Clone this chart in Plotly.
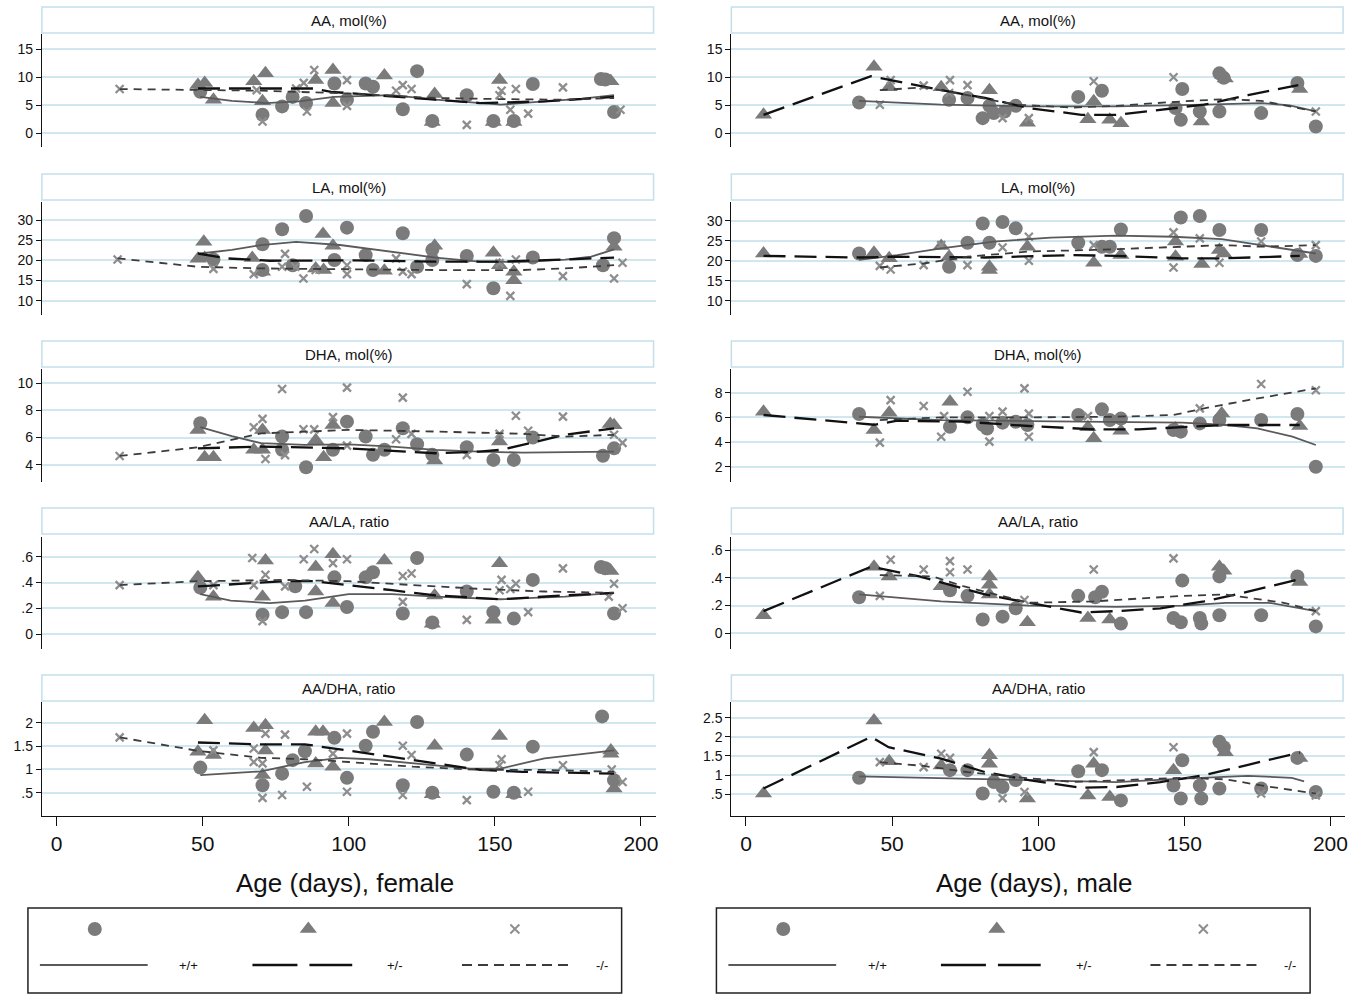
import plotly.graph_objects as go

W, H = 1364, 994

# ---------------- data (age in days, value) ----------------
F_AA_circ = [(49.2,7.4),(70.5,3.3),(77.2,4.8),(80.8,6.5),(85.4,5.4),(95.1,8.9),(99.4,6.0),(105.8,8.9),(108.3,8.3),(118.5,4.3),(123.4,11.1),(128.6,2.2),(140.4,6.8),(149.5,2.2),(156.5,2.2),(163,8.8),(186.3,9.7),(187.8,9.6),(190.8,3.8)]
F_AA_tri = [(48.4,8.6),(50.7,9.0),(53.7,6.0),(67.5,9.3),(71.5,10.7),(70.5,5.7),(88.7,9.5),(94.6,11.3),(94.6,5.4),(112.2,10.3),(129.4,7.0),(128.6,2.0),(151.6,9.5),(149.5,2.0),(156.5,2.0),(189.7,9.3)]
F_AA_x = [(21.6,7.9),(68.5,7.7),(70.5,2.1),(82,8.0),(84.6,9.0),(88.2,11.3),(85.7,3.9),(99.4,9.5),(99.4,4.9),(116.2,7.6),(118.5,8.6),(121.5,7.9),(140.4,1.5),(151.6,6.8),(152.3,7.6),(157.2,7.9),(155.3,4.2),(161.4,3.5),(173.3,8.2),(193,4.2)]
F_AA_solid = [(49.2,6.5),(60,5.8),(71.5,5.4),(83,5.7),(95,6.5),(114.8,6.8),(129.7,6.0),(145,5.4),(152,5.1),(167,5.7),(180,6.2),(190.8,6.8)]
F_AA_long = [(48.4,8.0),(88,8.0),(94,7.4),(115,6.5),(129.7,6.0),(145,5.4),(167,5.7),(190.8,6.5)]
F_AA_short = [(21.6,7.9),(48.4,7.7),(70,7.6),(100,7.1),(129.7,6.3),(152,6.1),(174,6.0),(190.8,6.3)]

F_LA_circ = [(53.7,20.2),(70.5,24.0),(70.5,17.6),(77.2,27.7),(80.8,18.8),(85.4,31.0),(95.1,20.1),(99.4,28.1),(105.8,21.3),(108.3,17.6),(118.5,26.7),(123.4,18.4),(128.6,22.6),(128.6,20.1),(140.4,21.1),(149.5,13.1),(163,20.7),(187,18.8),(190.8,25.5)]
F_LA_tri = [(48.4,20.4),(50.4,24.6),(50.7,20.6),(67,20.6),(70.5,17.2),(88.7,18.0),(91.2,26.5),(94.6,23.6),(91.4,17.6),(112.2,17.4),(129.4,23.6),(149.5,21.9),(151.6,18.8),(156.5,17.2),(156.5,15.1),(190.8,23.4)]
F_LA_x = [(20.9,20.2),(53.7,17.9),(67.5,16.6),(77.2,18.4),(78.2,21.6),(81.7,18.4),(84.5,15.5),(88.7,17.6),(99.4,16.6),(99.4,18.8),(116.2,20.5),(118.5,17.2),(121.5,16.6),(140.4,14.1),(151.6,19.3),(155.3,11.2),(157.2,20.2),(173.3,16.1),(190.8,15.5),(193.7,19.4)]
F_LA_solid = [(49.2,21.7),(60,22.6),(70,23.8),(82,24.6),(97,23.8),(114.8,22.1),(129.7,20.7),(144.6,19.7),(160,19.6),(174,20.2),(183,20.9),(190.8,22.7)]
F_LA_long = [(48.4,21.7),(58,20.5),(73,19.9),(100,20.0),(129.7,19.7),(152,19.7),(174,20.2),(190.8,20.7)]
F_LA_short = [(20.9,20.5),(48.4,18.4),(70,18.0),(100,17.8),(129.7,17.6),(159.5,17.6),(174,18.0),(190.8,18.8)]

F_DHA_circ = [(49.2,7.05),(77.2,6.07),(77.2,5.1),(85.4,3.81),(94.6,5.1),(99.4,7.17),(105.8,6.07),(108.3,4.72),(112.2,5.1),(118.5,6.68),(123.4,5.5),(128.6,4.72),(140.4,5.28),(149.5,4.35),(156.5,4.35),(163,6.0),(187,4.65),(190.8,5.2)]
F_DHA_tri = [(48.4,6.56),(50.7,4.55),(53.7,4.55),(67.5,5.1),(70.5,5.1),(70.5,6.56),(88.7,5.8),(91.4,4.55),(94.6,6.93),(129.4,4.3),(151.6,5.7),(189.5,7.0),(190.8,6.9)]
F_DHA_x = [(21.6,4.64),(67.5,6.76),(70.5,7.37),(71.5,4.42),(77.2,9.58),(78.2,4.7),(84.5,6.61),(88.2,6.6),(94.6,7.5),(99.4,9.68),(99.4,5.4),(116.2,5.87),(118.5,8.94),(121.5,6.27),(140.4,4.72),(151.6,6.27),(157.2,7.6),(161.4,6.5),(173.3,7.54),(190.8,6.2),(193.7,5.6)]
F_DHA_solid = [(49.2,6.76),(60,6.1),(70,5.58),(85,5.45),(100,5.5),(114.8,5.33),(129.7,5.09),(144.6,4.96),(159.5,4.89),(190.8,4.96)]
F_DHA_long = [(48.4,5.2),(70,5.33),(100,5.2),(122,4.96),(129.7,4.84),(144.6,4.96),(152,5.09),(159.5,5.45),(174,6.2),(190.8,6.68)]
F_DHA_short = [(21.6,4.64),(48.4,5.28),(70,6.3),(100,6.56),(129.7,6.44),(159.5,6.27),(174,6.07),(190.8,6.2)]

F_AALA_circ = [(49.2,0.36),(70.5,0.15),(77.2,0.17),(81.7,0.37),(85.4,0.17),(95.1,0.44),(99.4,0.21),(105.8,0.44),(108.3,0.48),(118.5,0.16),(123.4,0.59),(128.6,0.09),(140.4,0.33),(149.5,0.17),(156.5,0.12),(163,0.42),(186.3,0.52),(187.8,0.51),(190.8,0.16)]
F_AALA_tri = [(48.4,0.44),(53.7,0.29),(70.5,0.29),(71.5,0.57),(88.7,0.52),(88.7,0.33),(94.6,0.62),(94.6,0.24),(112.2,0.57),(129.4,0.30),(128.6,0.08),(151.6,0.55),(149.5,0.11),(189.7,0.49)]
F_AALA_x = [(21.6,0.38),(53.7,0.38),(67,0.59),(67.5,0.38),(71.5,0.46),(70.5,0.10),(78.2,0.37),(84.6,0.58),(88.2,0.66),(94.6,0.55),(99.4,0.58),(118.5,0.45),(121.5,0.47),(118.5,0.25),(140.4,0.11),(151.6,0.34),(152.3,0.42),(157.2,0.39),(155.3,0.35),(161.4,0.17),(173.3,0.51),(190.8,0.39),(189,0.29),(193.7,0.20)]
F_AALA_solid = [(49.2,0.31),(59.6,0.26),(73,0.24),(85,0.26),(100,0.31),(114.8,0.31),(129.7,0.29),(152,0.27),(174,0.29),(190.8,0.32)]
F_AALA_long = [(48.4,0.37),(62.6,0.39),(77.5,0.41),(88,0.41),(100,0.38),(114.8,0.34),(129.7,0.30),(152,0.27),(174,0.30),(190.8,0.32)]
F_AALA_short = [(21.6,0.38),(48.4,0.41),(77.5,0.42),(100,0.41),(122,0.38),(145,0.35),(167,0.33),(190.8,0.32)]

F_AADHA_circ = [(49.2,1.04),(70.5,0.66),(77.2,0.91),(80.8,1.2),(85,1.39),(95.1,1.68),(99.4,0.82),(105.8,1.51),(108.3,1.81),(118.5,0.66),(123.4,2.02),(128.6,0.5),(140.4,1.32),(149.5,0.52),(156.5,0.5),(163,1.49),(186.7,2.14),(190.8,0.77)]
F_AADHA_tri = [(48.4,1.38),(50.7,2.06),(53.7,1.31),(67.5,1.89),(71.5,1.95),(71.5,1.41),(70.5,0.88),(88.7,1.81),(91.2,1.81),(88.7,1.13),(94.6,1.06),(112.2,2.02),(129.4,1.51),(128.6,0.47),(151.6,1.72),(156.5,0.47),(189.7,1.41),(189.7,1.34),(190.8,0.59)]
F_AADHA_x = [(21.6,1.69),(53.7,1.41),(67.5,1.45),(67.5,1.16),(71.5,1.77),(70.5,1.13),(70.5,0.39),(78.2,1.75),(77.2,0.45),(85.7,0.63),(94.6,1.34),(99.4,1.77),(99.4,0.52),(118.5,1.51),(121.5,1.31),(118.5,0.45),(140.4,0.34),(152.3,1.22),(151.6,1.09),(161.4,0.52),(173.3,1.09),(190,1.0),(193.7,0.73)]
F_AADHA_solid = [(49.2,0.88),(70,0.96),(85,1.16),(97,1.25),(107,1.22),(122,1.13),(141.6,1.02),(152,1.02),(167,1.24),(190.8,1.41)]
F_AADHA_long = [(48.4,1.58),(70,1.54),(85,1.54),(100,1.41),(114.8,1.27),(129.7,1.13),(145,0.99),(159.5,0.95),(174,0.93),(190.8,0.91)]
F_AADHA_short = [(21.6,1.69),(48.4,1.4),(70,1.25),(85,1.22),(100,1.16),(122,1.06),(145,0.99),(167,0.99),(190.8,0.95)]

M_AA_circ = [(38.7,5.5),(69.5,6.0),(75.8,6.3),(81,2.7),(84.8,3.6),(83.3,4.9),(88.5,3.9),(92.3,4.9),(113.7,6.5),(121.8,7.6),(149.3,7.9),(147,4.5),(148.8,2.4),(155.3,3.9),(162,10.7),(163.5,9.9),(162,3.9),(176.3,3.6),(188.7,9.0),(195,1.2)]
M_AA_tri = [(6.0,3.3),(43.8,11.9),(49,8.2),(66.8,8.2),(83.3,7.7),(96.3,1.9),(117,2.5),(119,5.7),(124.5,2.4),(128.3,1.8),(155.8,2.1),(164,9.8),(189.5,7.9)]
M_AA_x = [(45.8,5.1),(49.5,9.5),(60.8,8.5),(69.8,9.5),(69.5,7.2),(75.8,8.6),(87.8,2.7),(96.8,2.7),(119,9.3),(146.3,10.0),(195,3.9)]
M_AA_solid = [(38.7,5.8),(66.8,5.1),(96.8,4.8),(126.8,4.8),(156.8,5.1),(176.3,5.4),(186,5.0),(195,3.9)]
M_AA_long = [(6.0,3.3),(42.8,10.2),(66.8,7.7),(81.8,6.3),(96.8,4.5),(114.8,3.3),(126.8,3.3),(141.8,4.2),(156.8,5.1),(171.8,6.8),(189,8.6)]
M_AA_short = [(45.8,7.7),(60.8,8.2),(75.8,6.8),(92.3,5.1),(112,4.6),(126.8,4.9),(149.3,5.7),(164,6.1),(176.3,5.8),(195,3.9)]

M_LA_circ = [(38.7,21.8),(69.5,18.5),(75.8,24.5),(81,29.3),(83.3,24.5),(87.8,29.7),(92.3,28.1),(113.7,24.5),(121.8,23.5),(124.5,23.5),(128.3,27.8),(148.8,30.8),(155.3,31.2),(162,27.7),(176.3,27.7),(188.7,21.4),(195,21.2)]
M_LA_tri = [(6.0,21.8),(43.8,22.0),(49,20.6),(66.8,23.7),(69.5,21.0),(83.3,18.5),(83.3,17.7),(96.3,23.5),(119,19.5),(128.3,21.4),(147,24.8),(147,21.0),(156,19.2),(162,22.7),(163.5,21.8),(189.5,21.7)]
M_LA_x = [(45.8,18.7),(49.5,17.8),(60.8,18.9),(66.8,23.9),(75.8,18.9),(87.8,23.3),(96.8,26.0),(96.8,20.0),(119,23.9),(146.3,27.1),(146.3,18.3),(155.3,25.6),(162,19.5),(176.3,24.8),(195,23.9)]
M_LA_solid = [(38.7,20.2),(51.8,21.4),(66.8,23.1),(84.8,24.8),(104.3,25.8),(126.8,26.3),(146.3,26.0),(162.8,25.4),(176.3,23.9),(195,21.8)]
M_LA_long = [(6,21.2),(38.7,20.8),(51.8,21.0),(81.8,20.8),(111.8,21.4),(126.8,21.2),(149.3,20.6),(164,20.6),(189.5,21.2)]
M_LA_short = [(45.8,18.3),(60.8,19.3),(75.8,21.0),(96.8,22.3),(119,22.7),(141.8,23.3),(164,23.9),(176.3,23.5),(195,23.9)]

M_DHA_circ = [(38.7,6.27),(69.8,5.24),(75.8,6.0),(81,5.4),(82.5,5.1),(87.8,5.57),(92.3,5.65),(96.3,5.38),(113.7,6.19),(121.8,6.65),(124.5,5.78),(128.3,5.9),(146.3,4.97),(148.8,4.84),(155.3,5.51),(162,5.78),(176.3,5.78),(188.7,6.27),(195,2.0)]
M_DHA_tri = [(6,6.46),(43.8,4.97),(49,6.38),(69.8,7.27),(117,5.2),(119,4.3),(128.3,4.92),(147,5.1),(162.8,6.32),(189.5,5.3)]
M_DHA_x = [(45.8,3.95),(49.5,7.4),(60.8,6.92),(66.8,4.43),(67.8,6.1),(75.8,8.08),(83.3,4.03),(83.3,6.1),(87.8,6.46),(95.3,8.35),(96.8,4.43),(96.8,6.3),(117,6.1),(155.3,6.73),(176.3,8.7),(195,8.2)]
M_DHA_solid = [(38.7,6.05),(66.8,5.78),(96.8,5.7),(126.8,5.65),(149.3,5.57),(164.3,5.38),(175,5.1),(187,4.43),(195,3.76)]
M_DHA_long = [(6,6.19),(38.7,5.51),(43.8,5.4),(51.8,5.73),(74.3,5.65),(96.8,5.3),(119,5.03),(134.3,5.03),(149.3,5.19),(164.3,5.38),(189.5,5.38)]
M_DHA_short = [(45.8,5.78),(66.8,6.0),(96.8,6.0),(126.8,6.05),(146.3,6.19),(156.8,6.73),(171.8,7.4),(195,8.35)]

M_AALA_circ = [(38.7,0.26),(69.8,0.31),(75.8,0.27),(81,0.10),(87.8,0.12),(92.3,0.18),(113.7,0.27),(119.5,0.26),(121.8,0.30),(128.3,0.07),(146.3,0.11),(148.8,0.08),(149.3,0.38),(155.3,0.11),(155.8,0.07),(162,0.41),(162,0.13),(176.3,0.13),(188.7,0.41),(195,0.05)]
M_AALA_tri = [(6,0.13),(43.8,0.48),(49,0.41),(66.8,0.34),(83.3,0.41),(83.3,0.35),(83.3,0.28),(96.3,0.08),(117,0.11),(124.5,0.10),(162,0.48),(163.5,0.45),(189.5,0.37)]
M_AALA_x = [(45.8,0.27),(49.5,0.53),(60.8,0.46),(69.8,0.52),(69.8,0.44),(75.8,0.46),(95.3,0.24),(119,0.46),(146.3,0.54),(195,0.16)]
M_AALA_solid = [(38.7,0.28),(66.8,0.23),(96.8,0.20),(126.8,0.19),(149.3,0.20),(164.3,0.22),(179,0.22),(195,0.16)]
M_AALA_long = [(6,0.16),(42.8,0.48),(59.3,0.41),(81.8,0.28),(96.8,0.22),(114.8,0.15),(126.8,0.16),(141.8,0.18),(156.8,0.23),(171.8,0.30),(189.5,0.39)]
M_AALA_short = [(45.8,0.42),(63.8,0.41),(74.3,0.34),(96.8,0.22),(119,0.23),(149.3,0.27),(164,0.28),(184,0.22),(195,0.16)]

M_AADHA_circ = [(38.7,0.93),(69.8,1.13),(75.8,1.13),(81,0.52),(84.8,0.82),(87.8,0.69),(92.3,0.87),(113.7,1.1),(121.8,1.13),(128.3,0.34),(146.3,0.73),(148.8,0.39),(149.3,1.39),(155.3,0.73),(155.8,0.39),(162,1.87),(163.5,1.73),(162,0.65),(176.3,0.65),(188.7,1.45),(195,0.56)]
M_AADHA_tri = [(6,0.52),(43.8,2.43),(49,1.36),(66.8,1.25),(83.3,1.52),(83.3,1.3),(96.3,0.39),(117,0.47),(119,1.3),(124.5,0.43),(146.3,1.13),(164,1.6),(189.5,1.45)]
M_AADHA_x = [(45.8,1.34),(60.8,1.21),(66.8,1.56),(69.8,1.45),(87.8,0.4),(95.3,0.56),(119,1.6),(146.3,1.73),(176.3,0.52),(195,0.47)]
M_AADHA_solid = [(38.7,0.97),(66.8,0.93),(96.8,0.87),(126.8,0.82),(149.3,0.91),(171.8,0.98),(186.8,0.93),(191,0.84)]
M_AADHA_long = [(6,0.65),(42.8,2.0),(48.8,1.73),(66.8,1.43),(81.8,1.08),(96.8,0.87),(114.8,0.67),(126.8,0.69),(141.8,0.82),(156.8,1.0),(171.8,1.27),(189.5,1.59)]
M_AADHA_short = [(45.8,1.34),(60.8,1.24),(75.8,1.08),(92.3,0.95),(112,0.82),(126.8,0.87),(149.3,0.93),(164.3,0.89),(176.3,0.73),(195,0.52)]

PANEL_TITLES = ["AA, mol(%)", "LA, mol(%)", "DHA, mol(%)", "AA/LA, ratio", "AA/DHA, ratio"]
X_TICKS = [0, 50, 100, 150, 200]
F_YTICKS = [([0, 5, 10, 15], ["0", "5", "10", "15"]),
            ([10, 15, 20, 25, 30], ["10", "15", "20", "25", "30"]),
            ([4, 6, 8, 10], ["4", "6", "8", "10"]),
            ([0, 0.2, 0.4, 0.6], ["0", ".2", ".4", ".6"]),
            ([0.5, 1, 1.5, 2], [".5", "1", "1.5", "2"])]
M_YTICKS = [([0, 5, 10, 15], ["0", "5", "10", "15"]),
            ([10, 15, 20, 25, 30], ["10", "15", "20", "25", "30"]),
            ([2, 4, 6, 8], ["2", "4", "6", "8"]),
            ([0, 0.2, 0.4, 0.6], ["0", ".2", ".4", ".6"]),
            ([0.5, 1, 1.5, 2, 2.5], [".5", "1", "1.5", "2", "2.5"])]
F_YRANGE = [(-2.45, 17.73), (6.46, 34.46), (2.72, 11.05), (-0.116, 0.753), (0.0, 2.45)]
M_YRANGE = [(-2.45, 17.73), (6.4, 34.7), (0.76, 9.92), (-0.113, 0.694), (-0.067, 2.91)]
XLABELS = ["Age (days), female", "Age (days), male"]
GENOTYPES = ["+/+", "+/-", "-/-"]

FEMALE = [(F_AA_circ, F_AA_tri, F_AA_x, F_AA_solid, F_AA_long, F_AA_short),
          (F_LA_circ, F_LA_tri, F_LA_x, F_LA_solid, F_LA_long, F_LA_short),
          (F_DHA_circ, F_DHA_tri, F_DHA_x, F_DHA_solid, F_DHA_long, F_DHA_short),
          (F_AALA_circ, F_AALA_tri, F_AALA_x, F_AALA_solid, F_AALA_long, F_AALA_short),
          (F_AADHA_circ, F_AADHA_tri, F_AADHA_x, F_AADHA_solid, F_AADHA_long, F_AADHA_short)]
MALE = [(M_AA_circ, M_AA_tri, M_AA_x, M_AA_solid, M_AA_long, M_AA_short),
        (M_LA_circ, M_LA_tri, M_LA_x, M_LA_solid, M_LA_long, M_LA_short),
        (M_DHA_circ, M_DHA_tri, M_DHA_x, M_DHA_solid, M_DHA_long, M_DHA_short),
        (M_AALA_circ, M_AALA_tri, M_AALA_x, M_AALA_solid, M_AALA_long, M_AALA_short),
        (M_AADHA_circ, M_AADHA_tri, M_AADHA_x, M_AADHA_solid, M_AADHA_long, M_AADHA_short)]

# ---------------- styling / layout ----------------
FONT = "Liberation Sans, Arial, sans-serif"
MK_COL = "#7b7b7b"
X_COL = "#8e8e8e"
GRID = "#d0e7f0"
BOX = "#c3dfea"
STYLES = [dict(color="#5a5a5a", width=1.8, dash="solid"),
          dict(color="#111111", width=2.3, dash="22px,9px"),
          dict(color="#3c3c3c", width=1.8, dash="8px,6px")]
LEG_DASH = ["solid", "45px,12px", "10px,6px"]

COL_PX = [(42, 657), (733, 1348)]
ROW_PX = [(34, 147), (202, 315), (369, 482), (537, 649), (702, 816)]
TITLE_C = [20, 187, 354, 521, 688]

def px2x(p): return p / W
def px2y(p): return 1 - p / H

fig = go.Figure()
layout = dict(width=W, height=H, margin=dict(l=0, r=0, t=0, b=0),
              paper_bgcolor="white", plot_bgcolor="rgba(0,0,0,0)", showlegend=False,
              font=dict(family=FONT, color="#111"))
shapes, annos = [], []

def xy(pts):
    return [p[0] for p in pts], [p[1] for p in pts]

idx = 0
for c, (data, yt, yr) in enumerate([(FEMALE, F_YTICKS, F_YRANGE), (MALE, M_YTICKS, M_YRANGE)]):
    for r in range(5):
        idx += 1
        xa = "x" if idx == 1 else f"x{idx}"
        ya = "y" if idx == 1 else f"y{idx}"
        xk = "xaxis" if idx == 1 else f"xaxis{idx}"
        yk = "yaxis" if idx == 1 else f"yaxis{idx}"
        x0, x1 = COL_PX[c]
        t, b = ROW_PX[r]
        bottom = (r == 4)
        layout[xk] = dict(domain=[px2x(x0), px2x(x1)], range=[-5, 205], anchor=ya,
                          showgrid=False, zeroline=False, fixedrange=True,
                          showline=bottom, linecolor="#111", linewidth=1.3,
                          ticks="outside" if bottom else "", ticklen=9, tickwidth=1.3, tickcolor="#111",
                          tickvals=X_TICKS, showticklabels=bottom,
                          tickfont=dict(size=21, family=FONT, color="#111"),
                          ticklabelstandoff=0)
        tv, tt = yt[r]
        layout[yk] = dict(domain=[px2y(b), px2y(t)], range=list(yr[r]), anchor=xa,
                          showgrid=True, gridcolor=GRID, gridwidth=1.6, zeroline=False,
                          showline=True, linecolor="#111", linewidth=1.3,
                          ticks="outside", ticklen=5, tickwidth=1.3, tickcolor="#111",
                          tickvals=tv, ticktext=tt, fixedrange=True,
                          tickfont=dict(size=14, family=FONT, color="#111"))
        circ, tri, xs, solid, longd, shortd = data[r]
        for pts, sym, size, col, lw in [(circ, "circle", 14, MK_COL, 0),
                                        (tri, "triangle-up", 15, MK_COL, 0),
                                        (xs, "x-thin", 8, X_COL, 2.3)]:
            px, py = xy(pts)
            fig.add_trace(go.Scatter(x=px, y=py, mode="markers", xaxis=xa, yaxis=ya,
                                     marker=dict(symbol=sym, size=size, color=col,
                                                 line=dict(width=lw, color=col))))
        for pts, st in zip([solid, longd, shortd], STYLES):
            px, py = xy(pts)
            fig.add_trace(go.Scatter(x=px, y=py, mode="lines", xaxis=xa, yaxis=ya,
                                     line=dict(color=st["color"], width=st["width"], dash=st["dash"])))
        # title box
        tc = TITLE_C[r]
        shapes.append(dict(type="rect", xref="paper", yref="paper",
                           x0=px2x(x0), x1=px2x(x1 - 2), y0=px2y(tc + 13), y1=px2y(tc - 13),
                           line=dict(color=BOX, width=1.5), fillcolor="white", layer="below"))
        annos.append(dict(text=PANEL_TITLES[r], xref="paper", yref="paper",
                          x=px2x((x0 + x1) / 2), y=px2y(tc), xanchor="center", yanchor="middle",
                          showarrow=False, font=dict(size=15, family=FONT, color="#111")))
    # x axis title
    annos.append(dict(text=XLABELS[c], xref="paper", yref="paper",
                      x=px2x((COL_PX[c][0] + COL_PX[c][1]) / 2 - 4), y=px2y(883),
                      xanchor="center", yanchor="middle",
                      showarrow=False, font=dict(size=26, family=FONT, color="#111")))

# ---------------- legend (overlay axis in pixel units) ----------------
layout["xaxis11"] = dict(domain=[0, 1], range=[0, W], visible=False, fixedrange=True)
layout["yaxis11"] = dict(domain=[0, 1], range=[H, 0], visible=False, fixedrange=True)
LEG_BOX = [(28, 623), (718, 1313)]
for c, (bx0, bx1) in enumerate(LEG_BOX):
    off = bx0 - 28
    shapes.append(dict(type="rect", xref="x11", yref="y11", x0=bx0, x1=bx1, y0=908, y1=993,
                       line=dict(color="#222", width=1.5)))
    for sx, sym, size, col, lw in [(95, "circle", 14, MK_COL, 0), (309, "triangle-up", 15, MK_COL, 0),
                                   (516, "x-thin", 9, X_COL, 2)]:
        fig.add_trace(go.Scatter(x=[sx + off], y=[929], mode="markers", xaxis="x11", yaxis="y11",
                                 marker=dict(symbol=sym, size=size, color=col, line=dict(width=lw, color=col))))
    for (lx0, lx1, tx), st, dsh, g in zip([(40, 148, 189), (253, 353, 396), (463, 570, 603)], STYLES, LEG_DASH, GENOTYPES):
        fig.add_trace(go.Scatter(x=[lx0 + off, lx1 + off], y=[965, 965], mode="lines", xaxis="x11", yaxis="y11",
                                 line=dict(color=st["color"], width=st["width"], dash=dsh)))
        annos.append(dict(text=g, xref="x11", yref="y11", x=tx + off, y=965, showarrow=False,
                          xanchor="center", yanchor="middle",
                          font=dict(size=13, family=FONT, color="#111")))

layout["shapes"] = shapes
layout["annotations"] = annos
fig.update_layout(**layout)
fig.write_html("out.html", config={"displayModeBar": False})
